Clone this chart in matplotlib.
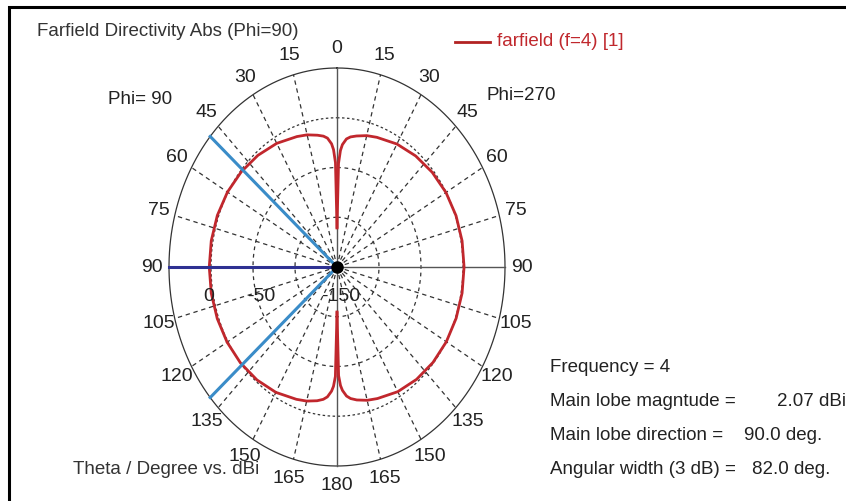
import numpy as np
import matplotlib.pyplot as plt
from matplotlib.patches import Rectangle

# data
theta_deg = np.array([0, 1, 2, 3, 5, 7, 10, 15, 20, 30, 40, 50, 60, 70, 80, 90,
                      100, 110, 120, 130, 140, 150, 160, 165, 170, 173, 175, 177, 178, 179, 180])
gain_phi90 = np.array([-110, -45, -32, -26, -20, -17.5, -15.5, -12.5, -10.5, -6.5, -3.5, -1.2, 0.6,
                       1.6, 2.0, 2.07, 2.0, 1.7, 1.1, 0.0, -1.8, -4.5, -8.5, -10.5, -13.5, -16,
                       -19, -25, -30, -40, -104])
gain_phi270 = gain_phi90 - 0.8
grid_angles = np.arange(0, 181, 15)
ring_levels = [0, -50, -100]
ring_labels = ['0', '-50', '-150']
ring_label_x = [-0.765, -0.45, 0.02]
r_min, r_max = -150, 50
main_dir = 90
beam_width = 82.0
info_left = ['Frequency = 4', 'Main lobe magntude =', 'Main lobe direction =', 'Angular width (3 dB) =']
info_right = ['', '2.07 dBi', '90.0 deg.', '82.0 deg.']
info_right_x = [0, 777, 744, 752]

W, H = 846, 501
plt.rcParams['font.family'] = ['Liberation Sans', 'DejaVu Sans']
fig = plt.figure(figsize=(W / 100, H / 100), dpi=100)


def fx(x, y):
    return x / W, 1 - y / H


def to_r(db):
    return np.clip((np.asarray(db, float) - r_min) / (r_max - r_min), 0, None)


# frame (only top and left edges fall inside the picture)
fig.patches.append(Rectangle(fx(9, 520), 1.5, (520 - 7) / H, transform=fig.transFigure,
                             fill=False, ec='black', lw=2.2))

# polar area drawn as an ellipse
cx, cy, rx, ry = 337, 267, 168, 199
ax = fig.add_axes([(cx - rx) / W, 1 - (cy + ry) / H, 2 * rx / W, 2 * ry / H])
ax.set_xlim(-1, 1)
ax.set_ylim(-1, 1)
ax.axis('off')

t = np.radians(np.linspace(0, 360, 400))
ax.plot(np.sin(t), np.cos(t), color='#333333', lw=0.9, clip_on=False)
for lv in ring_levels:
    rr = to_r(lv)
    ax.plot(rr * np.sin(t), rr * np.cos(t), color='#333333', lw=0.9,
            ls=(0, (2, 2)) if lv == 0 else (0, (3, 3)), clip_on=False)

for a in grid_angles:
    if a in (0, 90, 180):
        continue
    ar = np.radians(a)
    for s in (-1, 1):
        ax.plot([0, s * np.sin(ar)], [0, np.cos(ar)], color='#333333', lw=0.9,
                ls=(0, (3.5, 3)), clip_on=False)
ax.plot([0, 0], [-1, 1], color='#555555', lw=1.0, clip_on=False)
ax.plot([0, 1], [0, 0], color='#555555', lw=1.0, clip_on=False)

# pattern
th = np.radians(theta_deg)
r90 = to_r(gain_phi90)
r270 = to_r(gain_phi270)
ax.plot(-r90 * np.sin(th), r90 * np.cos(th), color='#c1272d', lw=2, clip_on=False)
ax.plot(r270 * np.sin(th), r270 * np.cos(th), color='#c1272d', lw=2, clip_on=False)

# main lobe and 3 dB lines
ax.plot([0, -1], [0, 0], color='#2e3192', lw=2.2, clip_on=False)
for a in (main_dir - beam_width / 2, main_dir + beam_width / 2):
    ar = np.radians(a)
    ax.plot([0, -np.sin(ar)], [0, np.cos(ar)], color='#3a8cc8', lw=2.2, clip_on=False)
ax.plot(0, 0, 'o', color='black', ms=8, clip_on=False)

# angle labels
for a in grid_angles:
    ar = np.radians(a)
    for s in ((-1, 1) if 0 < a < 180 else (1,)):
        ax.text(s * 1.1 * np.sin(ar), 1.1 * np.cos(ar), str(a), fontsize=14,
                ha='center', va='center', color='#222222')

for xl, lab in zip(ring_label_x, ring_labels):
    ax.text(xl, -0.15, lab, fontsize=14, ha='center', va='center', color='#222222')

# texts
fig.text(*fx(37, 32), 'Farfield Directivity Abs (Phi=90)', fontsize=13.5,
         va='center', color='#333333')
fig.text(*fx(108, 100), 'Phi= 90', fontsize=13.5, va='center', color='#222222')
fig.text(*fx(486, 95), 'Phi=270', fontsize=13.5, va='center', color='#222222')
fig.text(*fx(73, 470), 'Theta / Degree vs. dBi', fontsize=13.5, va='center', color='#333333')
fig.lines.append(plt.Line2D([455 / W, 490 / W], [1 - 42 / H] * 2, transform=fig.transFigure,
                            color='#b22222', lw=2))
fig.text(*fx(497, 42), 'farfield (f=4) [1]', fontsize=13.5, va='center', color='#c0282d')

for i, (a, b) in enumerate(zip(info_left, info_right)):
    y = 367 + 34 * i
    fig.text(*fx(550, y), a, fontsize=13.5, va='center', color='#222222')
    if b:
        fig.text(*fx(info_right_x[i], y), b, fontsize=13.5, va='center', color='#222222')

fig.savefig('out.png', dpi=100)
